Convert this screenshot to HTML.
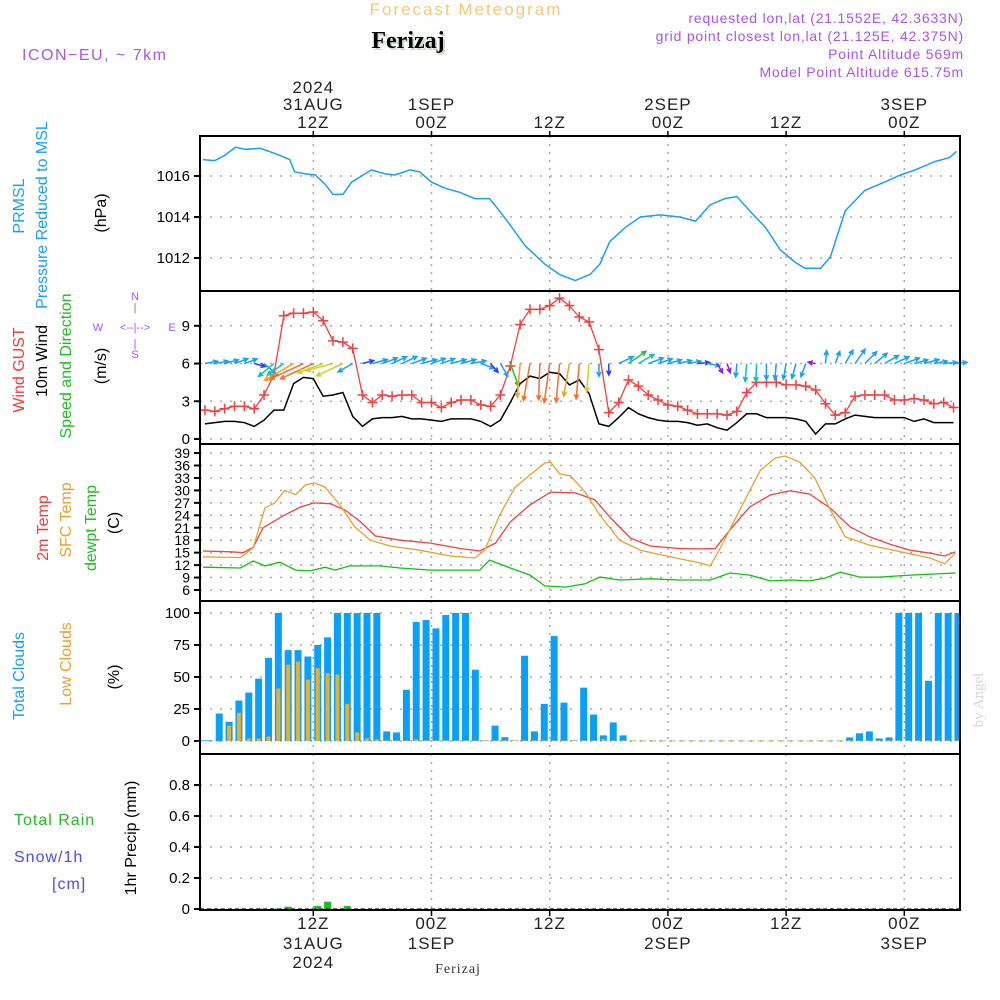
<!DOCTYPE html>
<html><head><meta charset="utf-8">
<style>
html,body{margin:0;padding:0;background:#fff;}
svg{display:block;font-family:"Liberation Sans",sans-serif;}
.tk{font-size:15px;fill:#000;}
.lab{font-size:16px;}
</style></head>
<body>
<svg id="chart" width="1000" height="1000" viewBox="0 0 1000 1000" xmlns="http://www.w3.org/2000/svg">
  <rect width="1000" height="1000" fill="#fff"/>
  <text x="466" y="15" text-anchor="middle" fill="#f5c97a" font-size="17" letter-spacing="2">Forecast Meteogram</text>
  <text x="410" y="50" text-anchor="middle" fill="#c9dcc9" font-size="24" font-weight="bold" font-family="Liberation Serif, serif">Ferizaj</text>
  <text x="408" y="48" text-anchor="middle" fill="#000" font-size="24" font-weight="bold" font-family="Liberation Serif, serif">Ferizaj</text>
  <text x="22" y="60" fill="#a855e8" font-size="16" letter-spacing="1.5">ICON−EU, ~ 7km</text>
  <text x="964" y="23" text-anchor="end" fill="#a855e8" font-size="14" letter-spacing="0.8">requested lon,lat (21.1552E, 42.3633N)</text>
  <text x="964" y="41" text-anchor="end" fill="#a855e8" font-size="14" letter-spacing="0.8">grid point closest lon,lat (21.125E, 42.375N)</text>
  <text x="964" y="59" text-anchor="end" fill="#a855e8" font-size="14" letter-spacing="0.8">Point Altitude 569m</text>
  <text x="964" y="77" text-anchor="end" fill="#a855e8" font-size="14" letter-spacing="0.8">Model Point Altitude 615.75m</text>

  <text transform="translate(24,206) rotate(-90)" text-anchor="middle" fill="#1a9ff0" class="lab">PRMSL</text>
  <text transform="translate(47,215) rotate(-90)" text-anchor="middle" fill="#1a9ff0" class="lab">Pressure Reduced to MSL</text>
  <text transform="translate(106,213) rotate(-90)" text-anchor="middle" fill="#000" class="lab">(hPa)</text>
  <text transform="translate(24,370) rotate(-90)" text-anchor="middle" fill="#f03c3c" class="lab">Wind GUST</text>
  <text transform="translate(47,361) rotate(-90)" text-anchor="middle" fill="#000" class="lab">10m Wind</text>
  <text transform="translate(71,366) rotate(-90)" text-anchor="middle" fill="#22bb22" class="lab">Speed and Direction</text>
  <text transform="translate(106,366) rotate(-90)" text-anchor="middle" fill="#000" class="lab">(m/s)</text>
  <g fill="#a855e8" font-size="11">
    <text x="135" y="300" text-anchor="middle">N</text>
    <text x="135" y="311" text-anchor="middle">|</text>
    <text x="98" y="331" text-anchor="middle">W</text>
    <text x="135" y="331" text-anchor="middle">&lt;--|--&gt;</text>
    <text x="172" y="331" text-anchor="middle">E</text>
    <text x="135" y="347" text-anchor="middle">|</text>
    <text x="135" y="358" text-anchor="middle">S</text>
  </g>
  <text transform="translate(48,528) rotate(-90)" text-anchor="middle" fill="#f03c3c" class="lab">2m Temp</text>
  <text transform="translate(71,520) rotate(-90)" text-anchor="middle" fill="#e8a030" class="lab">SFC Temp</text>
  <text transform="translate(96,528) rotate(-90)" text-anchor="middle" fill="#22bb22" class="lab">dewpt Temp</text>
  <text transform="translate(119,523) rotate(-90)" text-anchor="middle" fill="#000" class="lab">(C)</text>
  <text transform="translate(24,676) rotate(-90)" text-anchor="middle" fill="#1a9ff0" class="lab">Total Clouds</text>
  <text transform="translate(71,664) rotate(-90)" text-anchor="middle" fill="#e8a030" class="lab">Low Clouds</text>
  <text transform="translate(119,677) rotate(-90)" text-anchor="middle" fill="#000" class="lab">(%)</text>
  <text x="14" y="825" fill="#22bb22" class="lab" letter-spacing="1">Total  Rain</text>
  <text x="14" y="862" fill="#4a4af0" class="lab" letter-spacing="1">Snow/1h</text>
  <text x="52" y="889" fill="#4a4af0" class="lab" letter-spacing="1">[cm]</text>
  <text transform="translate(136,838) rotate(-90)" text-anchor="middle" fill="#000" class="lab">1hr Precip (mm)</text>
  <text transform="translate(983,700) rotate(-90)" text-anchor="middle" fill="#d8d8d8" font-size="15" font-family="Liberation Serif, serif">by Angel</text>
  <text x="458" y="973" text-anchor="middle" fill="#333" font-size="14" font-family="Liberation Serif, serif" letter-spacing="1">Ferizaj</text>
  <g id="plot"></g>
</svg>
<script>
const timeTickHours = [12, 24, 36, 48, 60, 72];
const timeTopLine1 = ["2024", "", "", "", "", ""];
const timeTopLine2 = ["31AUG", "1SEP", "", "2SEP", "", "3SEP"];
const timeTopLine3 = ["12Z", "00Z", "12Z", "00Z", "12Z", "00Z"];
const timeBotLine1 = ["12Z", "00Z", "12Z", "00Z", "12Z", "00Z"];
const timeBotLine2 = ["31AUG", "1SEP", "", "2SEP", "", "3SEP"];
const timeBotLine3 = ["2024", "", "", "", "", ""];

const pressureTicks = [1012, 1014, 1016];
const pressureHours = [0.8,2,3,4.1,5.1,6.6,8.1,9.6,10.1,11.2,12.2,13.2,14,15,15.9,16.9,17.9,19.3,20.3,21.8,22.8,24,25.4,26.9,28.4,29.9,30.9,32,33.5,35.5,37,38.6,40.1,41.1,42.1,43.7,45.2,47.2,49.2,50.8,52.3,53.8,55,56.3,57.9,59.4,60.9,61.9,63.5,64.5,66,68,69.5,71.6,73.1,75.1,76.6,77.3];
const pressureVals = [1016.8,1016.75,1017,1017.4,1017.3,1017.35,1017.1,1016.8,1016.2,1016.1,1016.05,1015.6,1015.1,1015.1,1015.7,1016.0,1016.3,1016.1,1016.05,1016.3,1016.2,1015.7,1015.4,1015.2,1014.9,1014.9,1014.3,1013.6,1012.6,1011.7,1011.2,1010.9,1011.2,1011.7,1012.8,1013.5,1014.0,1014.1,1014.0,1013.8,1014.6,1014.9,1015.0,1014.3,1013.5,1012.4,1011.8,1011.5,1011.5,1012.05,1014.3,1015.3,1015.6,1016.05,1016.3,1016.7,1016.9,1017.2];

const windTicks = [0, 3, 6, 9];
const gustVals = [2.3,2.2,2.4,2.6,2.6,2.4,3.5,5.1,9.8,10,10,10.1,9.4,7.8,7.7,7.2,3.5,2.9,3.5,3.4,3.5,3.5,2.9,2.9,2.5,2.9,3.1,3.1,2.7,2.6,3.5,5.8,9.1,10.3,10.3,10.6,11.2,10.6,9.7,9.3,7.1,2.1,2.9,4.7,4.2,3.5,3.1,2.7,2.6,2.3,2.0,2.0,2.0,1.9,2.2,3.7,4.5,4.5,4.5,4.3,4.3,4.2,3.9,2.8,1.9,2.1,3.4,3.5,3.5,3.5,3.1,3.1,3.2,3.1,2.8,2.9,2.5];
const windVals = [1.2,1.3,1.4,1.4,1.3,1.0,1.5,2.3,2.3,4.4,4.9,4.8,3.4,3.5,3.7,1.8,1.0,1.6,1.7,1.7,1.8,1.6,1.6,1.5,1.4,1.6,1.6,1.6,1.4,1.0,1.5,2.9,4.4,5.0,4.8,5.3,5.2,4.3,4.7,3.6,1.2,1.0,1.7,2.5,2.0,1.7,1.5,1.4,1.4,1.3,1.1,1.2,0.9,0.7,1.3,2.0,2.0,1.7,1.7,1.7,1.6,1.4,0.4,1.2,1.2,1.6,1.9,1.8,1.7,1.7,1.7,1.7,1.4,1.6,1.3,1.3,1.3];
const windDirs = [10,10,15,20,20,-15,-40,220,215,210,205,205,200,195,205,210,15,15,20,25,25,20,15,20,20,15,15,10,-20,-50,-60,-70,-95,-100,-92,-98,-95,-100,-95,-95,-90,-90,25,35,30,20,18,15,12,10,5,-10,-60,-70,-95,-95,-92,-90,-95,-100,-105,-110,170,85,70,60,55,45,40,30,25,20,15,15,10,5,5];

const tempTicks = [6,9,12,15,18,21,24,27,30,33,36,39];
const t2Hours = [0.8,3.6,4.9,5.9,6.9,8.9,10.7,12.1,13.7,15.2,16.8,18.3,20.8,23.9,26.9,28.9,30.5,32,34,36.1,38.6,40.6,42.1,44.2,46.2,49.2,51.3,52.8,54.3,56.3,58.4,60.4,62.4,64.5,66.5,68.5,70.6,72.6,74.6,76.1,77.2];
const t2Vals = [15.4,15.2,15.0,16.3,21,23.8,26,27,26.8,25.3,22.4,19,18,17.3,16,15.4,17.3,22.4,26.5,29.6,29.4,27.7,23.6,18.5,16.6,16,15.9,16,20.5,26,28.9,29.9,29.1,25.7,21.2,18.8,17,15.6,14.9,14.2,15.2];
const sfcHours = [0.8,4.6,5.9,7.1,8.1,9.1,10.2,11.2,12.1,13.2,14.7,16.2,17.8,19.8,22.8,25.9,28.4,29.4,30.9,32.5,34,35.5,36.1,37,38.1,39.6,41.1,43.1,45.2,48.2,51.3,52.3,53.3,55.3,57.4,58.9,59.9,61.4,62.9,64.5,66,68.5,71.6,74.6,76.1,77.2];
const sfcVals = [14,13.8,16.2,25.8,27,30,29,31.3,31.8,30.8,26.5,21.2,18,16.6,15.6,14.2,13.7,15.6,24,30.8,33.7,36.6,36.8,34,33.5,29.6,24,18,15.6,14,12.5,11.8,16,25.3,34.9,37.8,38.3,36.8,33,25.3,18.8,16.8,15.2,13.7,12.3,14.9];
const dewHours = [0.8,4.6,5.9,7.1,8.6,10.2,11.7,13.2,14.2,15.7,18.8,20.8,23.9,26.9,28.9,29.9,32,34,35.5,37.6,39.6,41.1,43.1,46.2,49.2,52.3,54.3,56.3,58.4,60.4,62.4,64,65.5,67.5,69.5,72.6,77.2];
const dewVals = [11.5,11.3,13,11.8,12.7,10.8,10.6,11.5,10.8,11.8,11.8,11.3,10.8,10.8,10.8,13.2,11.3,9.6,7,6.7,7.5,9.1,8.4,8.7,8.4,8.4,10.1,9.6,8.2,8.4,8.2,8.9,10.3,9.1,9.1,9.6,10.1];

const cloudTicks = [0, 25, 50, 75, 100];
const totalClouds = [0.5,0.5,21.5,15,31.6,37.8,48.7,65,100,71,71,66,75,81,100,100,100,100,100,7.5,6.7,40,93,94.5,88,98.4,100,100,55.7,0.5,12,3,0.5,66.6,7.5,29,82,30,0.5,41.7,20.7,4.4,14.5,4.4,0.3,0.3,0.3,0.3,0.3,0.3,0.3,0.3,0.3,0.3,0.3,0.3,0.3,0.3,0.3,0.3,0.3,0.3,0.3,0.3,0.3,0.3,2.8,6,7.5,2,2.8,100,100,100,47,100,100,100];
const lowClouds = [0,0,0,12,22,2,2,3.6,41,59.6,62,48,57,53,52,29,6.7,2,1.3,0.5,0.5,0.5,1.3,0.5,0.5,0.5,0.5,0.5,0.5,0.5,0.5,0.5,0.5,0.5,0.5,0.5,0.5,0.5,0.5,0.5,0.5,1.5,0.5,0.5,0.5,0.5,0.5,0.5,0.5,0.5,0.5,0.5,0.5,0.5,0.5,0.5,0.5,0.5,0.5,0.5,0.5,0.5,0.5,0.5,0.5,0.5,0.5,0.5,0.5,0.5,0.5,0.5,0.5,0.5,0.5,0.5,0.5,0.5];

const precipTicks = [0, 0.2, 0.4, 0.6, 0.8];
const precipTickLabels = ["0", "0.2", "0.4", "0.6", "0.8"];
const precipVals = [0,0,0,0,0,0,0,0,0.003,0.015,0,0,0.02,0.047,0,0.02,0,0,0,0,0,0,0,0,0,0,0,0,0,0,0,0,0,0,0,0,0,0,0,0,0,0,0,0,0,0,0,0,0,0,0,0,0,0,0,0,0,0,0,0,0,0,0,0,0,0,0,0,0,0,0,0,0,0,0,0,0,0];

const NS = "http://www.w3.org/2000/svg";
const plot = document.getElementById("plot");
const X0 = 200, X1 = 960;
const xH = h => 195.1 + h * 9.85;
const yP = p => 258 - (p - 1012) * 20.5;
const yW = v => 439 - v * 12.58;
const yT = t => 590 - (t - 6) * 4.15;
const yC = c => 741 - c * 1.28;
const yR = r => 909 - r * 155;
const panels = [[136, 291], [291, 444], [444, 601], [601, 754], [754, 910]];

function mk(tag, attrs, parent) {
  const e = document.createElementNS(NS, tag);
  for (const k in attrs) e.setAttribute(k, attrs[k]);
  (parent || plot).appendChild(e);
  return e;
}
function pathD(xs, ys) { return xs.map((x, i) => (i ? "L" : "M") + x.toFixed(1) + "," + ys[i].toFixed(1)).join(""); }

panels.forEach(([t, b]) => {
  timeTickHours.forEach(h => {
    const g = mk("line", {x1: xH(h), x2: xH(h), y1: t, y2: b, stroke: "#aaa", "stroke-width": 1.5, "stroke-dasharray": "2,6"});
    
    
  });
});
function hGrid(ticks, yf, labels, name, fs) {
  ticks.forEach((v, i) => {
    const y = yf(v);
    const g = mk("line", {x1: X0, x2: X1, y1: y, y2: y, stroke: "#aaa", "stroke-width": 1.5, "stroke-dasharray": "2,8"});
    
    
    const tk = mk("line", {x1: 194, x2: X0, y1: y, y2: y, stroke: "#000", "stroke-width": 2});
    
    
    const tx = mk("text", {x: 190, y: y + 5, "text-anchor": "end", class: "tk", style: "font-size:" + (fs || 15) + "px"});
    tx.textContent = labels ? labels[i] : String(v);
    
    
  });
}
hGrid(pressureTicks, yP, null, "pressure");
hGrid(windTicks, yW, null, "wind");
hGrid(tempTicks, yT, null, "temp", 14);
hGrid(cloudTicks, yC, null, "cloud");
hGrid(precipTicks, yR, precipTickLabels, "precip");

const pl = mk("path", {d: pathD(pressureHours.map(xH), pressureVals.map(yP)), fill: "none", stroke: "#1a9ff0", "stroke-width": 1.5});



const windHours = windVals.map((v, i) => i + 1);
const wl = mk("path", {d: pathD(windHours.map(xH), windVals.map(yW)), fill: "none", stroke: "#000", "stroke-width": 1.5});


const gustHours = gustVals.map((v, i) => i + 1);
const gl = mk("path", {d: pathD(gustHours.map(xH), gustVals.map(yW)), fill: "none", stroke: "#f04040", "stroke-width": 1.3});


gustVals.forEach((v, i) => {
  const x = xH(gustHours[i]), y = yW(v);
  const m = mk("path", {d: `M${x-5},${y}L${x+5},${y}M${x},${y-5}L${x},${y+5}`, stroke: "#f04040", "stroke-width": 1.5});
  
  
});
function windColor(s) {
  if (s < 0.95) return "#9020e0";
  if (s < 1.15) return "#2a40f0";
  if (s < 2.0) return "#1aa0f0";
  if (s < 2.4) return "#10c0b0";
  if (s < 3.0) return "#20c040";
  if (s < 3.8) return "#d0d020";
  if (s < 4.6) return "#f0a020";
  return "#f07030";
}
windDirs.forEach((d, i) => {
  const s = windVals[i];
  const len = 5 + s * 6.5;
  const a = d * Math.PI / 180;
  const x0 = xH(windHours[i]), y0 = yW(6);
  const x1 = x0 + len * Math.cos(a), y1 = y0 - len * Math.sin(a);
  const hl = 5, b1 = a + Math.PI - 0.45, b2 = a + Math.PI + 0.45;
  const c = windColor(s);
  const ar = mk("path", {d: `M${x0},${y0}L${x1},${y1}M${x1 + hl*Math.cos(b1)},${y1 - hl*Math.sin(b1)}L${x1},${y1}L${x1 + hl*Math.cos(b2)},${y1 - hl*Math.sin(b2)}`, fill: "none", stroke: c, "stroke-width": 1.5});
  
  
});

const tl2 = mk("path", {d: pathD(t2Hours.map(xH), t2Vals.map(yT)), fill: "none", stroke: "#f04040", "stroke-width": 1.3});


const tls = mk("path", {d: pathD(sfcHours.map(xH), sfcVals.map(yT)), fill: "none", stroke: "#e8a030", "stroke-width": 1.3});


const tld = mk("path", {d: pathD(dewHours.map(xH), dewVals.map(yT)), fill: "none", stroke: "#10c010", "stroke-width": 1.3});



totalClouds.forEach((v, i) => {
  const x = xH(i + 0.45);
  const r = mk("rect", {x: Math.max(X0, x - 3.5), y: yC(v), width: Math.min(7, X1 - Math.max(X0, x - 3.5)), height: Math.max(0.6, 741 - yC(v)), fill: "#0aa0f5"});
  
  
});
lowClouds.forEach((v, i) => {
  const x = xH(i + 0.45);
  if (x > X1 - 2) return;
  const r = mk("rect", {x: x - 2, y: yC(v), width: 4, height: Math.max(0.6, 741 - yC(v)), fill: "#e8b030"});
  
  
});

precipVals.forEach((v, i) => {
  if (v <= 0) return;
  const x = xH(i + 0.45);
  const r = mk("rect", {x: x - 3.5, y: yR(v), width: 7, height: 909 - yR(v), fill: "#22bb22"});
  
  
});
const pz = mk("line", {x1: X0, x2: X1, y1: 909, y2: 909, stroke: "#444", "stroke-width": 1.5, "stroke-dasharray": "4,3"});



panels.forEach(([t, b]) => {
  const f = mk("rect", {x: X0, y: t, width: X1 - X0, height: b - t, fill: "none", stroke: "#000", "stroke-width": 2});
  
  
});

timeTickHours.forEach((h, i) => {
  const x = xH(h);
  const t1 = mk("line", {x1: x, x2: x, y1: 131, y2: 136, stroke: "#000", "stroke-width": 1.5});
  
  
  const t2 = mk("line", {x1: x, x2: x, y1: 910, y2: 916, stroke: "#000", "stroke-width": 1.5});
  
  
  [[timeTopLine1[i], 93], [timeTopLine2[i], 110], [timeTopLine3[i], 128]].forEach(([s, y]) => {
    if (!s) return;
    const tx = mk("text", {x: x, y: y, "text-anchor": "middle", fill: "#222", "font-size": 17, "letter-spacing": 1});
    tx.textContent = s;
    
    
  });
  [[timeBotLine1[i], 929], [timeBotLine2[i], 949], [timeBotLine3[i], 968]].forEach(([s, y]) => {
    if (!s) return;
    const tx = mk("text", {x: x, y: y, "text-anchor": "middle", fill: "#222", "font-size": 17, "letter-spacing": 1});
    tx.textContent = s;
    
    
  });
});
</script>
</body></html>
